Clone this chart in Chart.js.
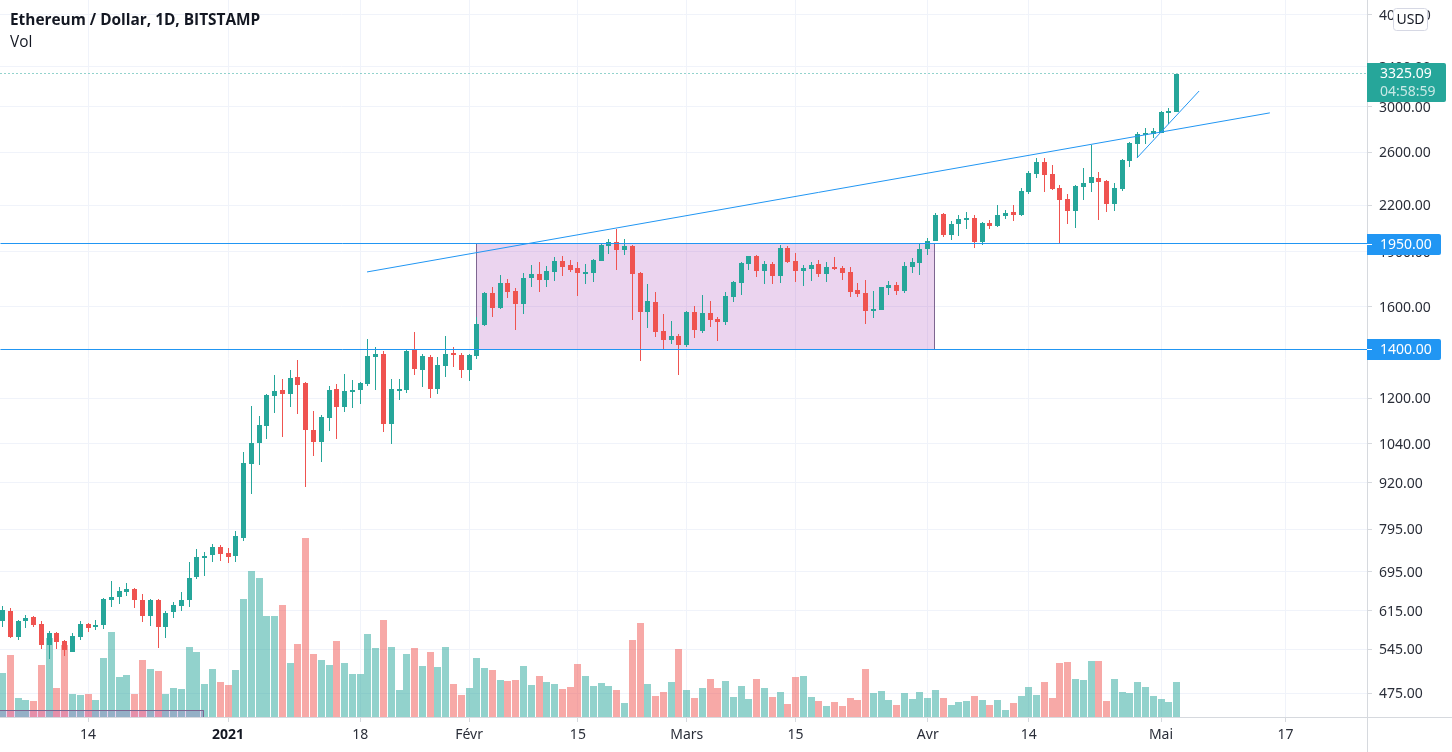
<!DOCTYPE html>
<html>
<head>
<meta charset="utf-8">
<title>Ethereum / Dollar</title>
<script src="https://cdn.jsdelivr.net/npm/chart.js@4"></script>
<style>
	html, body { margin: 0; padding: 0; background: #fff; overflow: hidden; }
	#wrap { position: relative; width: 1452px; height: 752px; }
	#title { position: absolute; left: 10px; top: 9px; font: bold 15.4px "Open Sans", sans-serif; color: #131722; white-space: nowrap; }
	#vol { position: absolute; left: 10px; top: 31px; font: 15.4px "Open Sans", sans-serif; color: #131722; }
</style>
</head>
<body>
<div id="wrap">
	<canvas id="chart" width="1452" height="752"></canvas>
	<div id="title">Ethereum / Dollar, 1D, BITSTAMP</div>
	<div id="vol">Vol</div>
</div>
<script>
// days counted from 1 Jan 2021, first candle is 3 Dec 2020
const firstDay = -29;

const open = [
	595,615,566,596,604,591,553,574,560,541,
	566,591,585,588,637,643,653,659,637,606,
	637,584,612,625,636,683,727,732,752,738,
	730,774,976,1042,1100,1208,1231,1216,1283,1259,
	1086,1046,1128,1235,1167,1223,1231,1255,1366,1379,
	1107,1227,1231,1396,1311,1366,1235,1328,1383,1375,
	1311,1370,1510,1670,1593,1724,1680,1613,1751,1773,
	1740,1784,1846,1823,1806,1773,1778,1846,1936,1960,
	1912,1936,1778,1573,1624,1482,1441,1459,1418,1573,
	1482,1568,1539,1524,1649,1724,1829,1876,1790,1829,
	1762,1924,1846,1790,1801,1829,1773,1812,1806,1784,
	1686,1670,1578,1583,1697,1713,1680,1812,1834,1918,
	1967,2140,2004,2074,2100,2113,1960,2081,2061,2127,
	2153,2133,2294,2427,2520,2427,2322,2244,2160,2330,
	2360,2397,2375,2209,2315,2528,2667,2744,2752,2761,2941,2950
];
const high = [
	625,621,598,607,606,596,578,576,562,574,
	595,592,598,640,676,663,672,661,649,639,
	639,615,633,653,716,747,741,759,757,750,
	791,1014,1171,1135,1216,1291,1275,1311,1353,1262,
	1153,1139,1247,1255,1295,1271,1263,1445,1409,1392,
	1275,1275,1396,1478,1379,1375,1366,1459,1409,1383,
	1379,1549,1675,1702,1767,1745,1697,1778,1823,1840,
	1817,1870,1876,1852,1840,1829,1858,1948,1979,2042,
	1979,1940,1784,1718,1675,1563,1529,1468,1578,1603,
	1660,1629,1549,1675,1735,1840,1876,1882,1846,1840,
	1942,1936,1894,1823,1840,1852,1840,1870,1817,1812,
	1724,1740,1680,1702,1735,1729,1840,1864,1948,1985,
	2146,2146,2094,2133,2153,2133,2087,2100,2202,2167,
	2202,2322,2450,2552,2552,2497,2345,2280,2345,2474,
	2659,2442,2380,2360,2544,2684,2770,2805,2805,2959,2986,3325
];
const low = [
	584,564,561,582,584,546,529,546,533,541,
	562,575,579,581,623,628,644,620,593,586,
	548,564,602,614,623,679,687,716,720,714,
	716,767,889,973,1055,1146,1062,1167,1142,908,
	1001,982,1083,1055,1149,1163,1178,1247,1231,1079,
	1039,1193,1219,1291,1243,1200,1216,1283,1323,1279,
	1267,1357,1506,1549,1588,1644,1487,1563,1702,1675,
	1702,1735,1762,1784,1654,1718,1729,1846,1888,1795,
	1882,1534,1349,1496,1455,1396,1423,1291,1409,1450,
	1473,1501,1437,1510,1624,1660,1795,1756,1718,1718,
	1724,1834,1729,1707,1735,1756,1729,1795,1740,1649,
	1649,1515,1544,1583,1660,1660,1670,1778,1767,1882,
	1967,1992,1973,1998,2042,1924,1942,2042,2055,2107,
	2094,2127,2280,2397,2294,2308,1948,2074,2049,2237,
	2294,2100,2153,2160,2301,2481,2552,2667,2718,2761,2840,2950
];
const close = [
	617,566,596,602,589,553,573,557,543,569,
	591,583,589,639,643,655,659,637,606,637,
	584,611,627,637,682,729,731,752,736,729,
	778,979,1042,1104,1212,1227,1216,1279,1251,1086,
	1046,1131,1231,1167,1227,1231,1259,1370,1379,1107,
	1235,1235,1392,1315,1370,1235,1332,1379,1375,1311,
	1375,1515,1670,1593,1724,1675,1613,1751,1773,1740,
	1790,1846,1812,1795,1778,1784,1852,1942,1960,1912,
	1936,1773,1573,1629,1478,1441,1459,1418,1573,1487,
	1568,1534,1524,1654,1729,1834,1876,1790,1829,1762,
	1924,1840,1790,1806,1823,1773,1812,1801,1778,1675,
	1665,1578,1588,1702,1713,1680,1817,1840,1918,1967,
	2133,2004,2074,2107,2113,1960,2081,2061,2133,2146,
	2133,2301,2435,2520,2420,2315,2237,2160,2337,2360,
	2405,2367,2209,2322,2536,2676,2752,2761,2778,2950,2959,3325
];
// thousands
const volume = [
	89,125,39,35,33,105,159,59,145,47,
	45,47,35,119,171,81,85,47,115,97,
	93,47,59,57,141,131,67,97,71,65,
	95,236,292,278,202,202,224,108,146,358,
	126,114,104,152,108,86,86,166,138,194,
	140,54,126,138,102,130,100,140,66,44,
	58,118,98,94,74,72,74,102,64,82,
	70,66,56,60,106,82,62,68,62,54,
	28,154,188,66,42,50,70,136,54,38,
	58,76,58,72,40,62,36,76,58,40,
	50,26,80,82,40,32,22,30,22,38,
	34,96,48,52,34,24,48,36,50,38,
	54,38,24,30,32,42,34,24,34,14,
	28,42,60,44,70,38,108,110,76,74,
	112,112,32,76,50,48,70,60,42,36,30,70
];

const priceTicks = [4000,3400,3000,2600,2200,1900,1600,1400,1200,1040,920,795,695,615,545,475];
const dayTicks = [-18,0,17,31,45,59,73,90,103,120,136];
const dayLabels = ['14','2021','18','Févr','15','Mars','15','Avr','14','Mai','17'];

const levels = [1950, 1400];
const lastPrice = 3325.09;
const countdown = '04:58:59';
const rangeBox = {x0: 31.9, x1: 90.9, top: 1950, bottom: 1400};
const oldBox = {x0: -35, x1: -3.09, top: 449, bottom: 430};
const longTrend = [{x: 17.88, y: 1784}, {x: 134, y: 2941}];
const shortTrend = [{x: 116.9, y: 2552}, {x: 124.9, y: 3150}];

const xMin = -29.325, xMax = 146.495;
const yMin = 440.6, yMax = 4193;

const days = open.map((_, i) => firstDay + i);
const up = open.map((o, i) => close[i] >= o);
const teal = '#26a69a', red = '#ef5350', blue = '#2196f3';

function boxPoints(b) {
	return [{x: b.x0, y: b.top}, {x: b.x1, y: b.top}, {x: b.x1, y: b.bottom}, {x: b.x0, y: b.bottom}, {x: b.x0, y: b.top}];
}

function lineSet(data, color, order, extra) {
	return Object.assign({
		type: 'line', data: data, borderColor: color, borderWidth: 1,
		pointRadius: 0, tension: 0, fill: false, order: order, xAxisID: 'x', yAxisID: 'y'
	}, extra || {});
}

function barSet(data, colors, width, order, yAxisID) {
	return {
		type: 'bar', data: data, backgroundColor: colors, borderWidth: 0,
		barThickness: width, maxBarThickness: width, grouped: false, inflateAmount: 0,
		order: order, xAxisID: 'x', yAxisID: yAxisID, snapBar: true
	};
}

const datasets = [
	barSet(days.map((d, i) => ({x: d, y: volume[i]})), up.map(u => u ? 'rgba(38,166,154,0.5)' : 'rgba(239,83,80,0.5)'), 7, 9, 'yVol'),
	lineSet(boxPoints(rangeBox), '#7d6690', 8, {fill: 'shape', backgroundColor: 'rgba(156,39,176,0.2)', snapLine: true}),
	lineSet(boxPoints(oldBox), '#7d6690', 8, {fill: 'shape', backgroundColor: 'rgba(156,39,176,0.2)', snapLine: true}),
	barSet(days.map((d, i) => ({x: d, y: [low[i], high[i]]})), up.map(u => u ? teal : red), 1, 5, 'y'),
	barSet(days.map((d, i) => ({x: d, y: [open[i], close[i]]})), up.map(u => u ? teal : red), 5, 4, 'y'),
	lineSet(longTrend, blue, 3),
	lineSet(shortTrend, blue, 3),
	lineSet(levels.flatMap(l => [{x: xMin, y: l}, {x: xMax, y: l}, {x: NaN, y: NaN}]), blue, 2, {snapLine: true}),
	lineSet([{x: xMin, y: lastPrice}, {x: xMax, y: lastPrice}], teal, 2, {borderDash: [1, 3], snapLine: true})
];

// keep bars and straight lines on whole pixels like the original
const snapPlugin = {
	id: 'snap',
	afterDatasetsUpdate(chart) {
		chart.data.datasets.forEach((ds, i) => {
			const meta = chart.getDatasetMeta(i);
			if (ds.snapBar) {
				meta.data.forEach(el => {
					el.x = Math.floor(el.x) + 0.5;
					el.y = Math.round(el.y);
					el.base = Math.round(el.base);
				});
			}
			if (ds.snapLine) {
				meta.data.forEach(el => {
					el.x = Math.floor(el.x) + 0.5;
					el.y = Math.floor(el.y) + 0.5;
				});
			}
		});
	}
};

function tag(ctx, x, y, w, h, color, radius) {
	ctx.fillStyle = color;
	ctx.beginPath();
	ctx.roundRect(x, y, w, h, radius);
	ctx.fill();
}

const frameAndTags = {
	id: 'frameAndTags',
	afterDraw(chart) {
		const ctx = chart.ctx, area = chart.chartArea, y = chart.scales.y;
		ctx.save();
		// axis lines run to the edge of the picture
		ctx.strokeStyle = '#d6d9de';
		ctx.lineWidth = 1;
		ctx.beginPath();
		ctx.moveTo(0, area.bottom + 0.5);
		ctx.lineTo(1452, area.bottom + 0.5);
		ctx.moveTo(area.right + 0.5, 0);
		ctx.lineTo(area.right + 0.5, 752);
		ctx.stroke();

		ctx.textBaseline = 'middle';
		ctx.textAlign = 'left';
		ctx.font = '14px "Noto Sans", sans-serif';

		levels.forEach(l => {
			const py = Math.round(y.getPixelForValue(l));
			tag(ctx, area.right, py - 10, 74, 21, blue, [0, 2, 2, 0]);
			ctx.fillStyle = '#fff';
			ctx.fillRect(area.right, py, 5, 1);
			ctx.fillText(l.toFixed(2), 1380, py + 1);
		});

		const lastY = Math.round(y.getPixelForValue(lastPrice));
		tag(ctx, area.right, lastY - 11, 79, 39, teal, [0, 2, 2, 0]);
		ctx.fillStyle = '#fff';
		ctx.fillText(lastPrice.toFixed(2), 1380, lastY);
		ctx.fillStyle = 'rgba(255,255,255,0.75)';
		ctx.fillText(countdown, 1380, lastY + 18);

		ctx.fillStyle = '#fff';
		ctx.strokeStyle = '#d6d8e4';
		ctx.beginPath();
		ctx.roundRect(1393.5, 8.5, 34, 22, 3);
		ctx.fill();
		ctx.stroke();
		ctx.fillStyle = '#131722';
		ctx.textAlign = 'center';
		ctx.fillText('USD', 1410.5, 20);
		ctx.restore();
	}
};

function noPadding(s) {
	s.paddingTop = 0;
	s.paddingBottom = 0;
	s.paddingLeft = 0;
	s.paddingRight = 0;
}

new Chart(document.getElementById('chart'), {
	type: 'bar',
	data: {datasets: datasets},
	plugins: [snapPlugin, frameAndTags],
	options: {
		responsive: false,
		animation: false,
		parsing: true,
		layout: {padding: 0},
		plugins: {legend: {display: false}, tooltip: {enabled: false}, title: {display: false}},
		scales: {
			x: {
				type: 'linear',
				position: 'bottom',
				min: xMin,
				max: xMax,
				bounds: 'data',
				offset: false,
				grid: {offset: false, color: '#f0f3fa', tickColor: '#d6d9de', tickLength: 5, drawTicks: true},
				border: {display: false},
				afterBuildTicks: s => { s.ticks = dayTicks.map(v => ({value: v})); },
				afterFit: s => { s.height = 35; noPadding(s); },
				ticks: {
					autoSkip: false,
					maxRotation: 0,
					padding: 5,
					callback: v => dayLabels[dayTicks.indexOf(v)],
					font: c => ({family: '"Noto Sans", sans-serif', size: 14, weight: c.tick && c.tick.value === 0 ? 'bold' : 'normal'}),
					color: c => c.tick && c.tick.value === 0 ? '#131722' : '#2a2e39'
				}
			},
			y: {
				type: 'logarithmic',
				position: 'right',
				min: yMin,
				max: yMax,
				bounds: 'data',
				grid: {color: '#f0f3fa', tickColor: '#d6d9de', tickLength: 5},
				border: {display: false},
				afterBuildTicks: s => { s.ticks = priceTicks.map(v => ({value: v})); },
				afterFit: s => { s.width = 85; noPadding(s); },
				ticks: {
					autoSkip: false,
					padding: 7,
					labelOffset: 1,
					callback: v => Number(v).toFixed(2),
					font: {family: '"Noto Sans", sans-serif', size: 14},
					color: '#2a2e39'
				}
			},
			yVol: {
				type: 'linear',
				display: false,
				min: 0,
				max: 1434
			}
		}
	}
});
</script>
</body>
</html>
